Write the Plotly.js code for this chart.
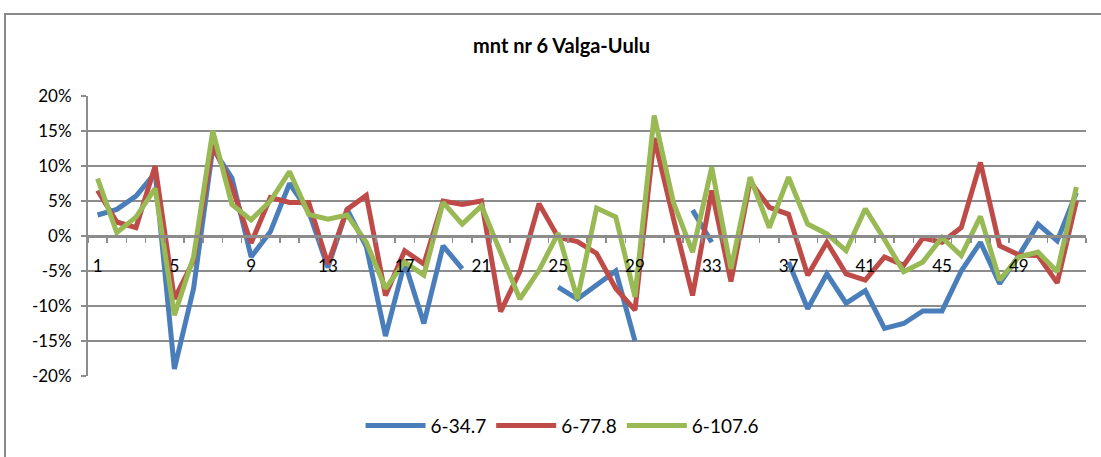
<!DOCTYPE html>
<html>
<head>
<meta charset="utf-8">
<script src="https://cdn.plot.ly/plotly-3.0.1.min.js"></script>
<style>
  html, body { margin: 0; padding: 0; background: #fff; }
  #wrap { position: relative; width: 1101px; height: 457px; overflow: hidden; }
  #chart { width: 1101px; height: 457px; }
  #frame { position: absolute; left: 4px; top: 13px; width: 1200px; height: 600px;
           border: 2px solid #898989; pointer-events: none; box-sizing: border-box; }
</style>
</head>
<body>
<div id="wrap">
  <div id="chart"></div>
  <div id="frame"></div>
</div>
<script>
// Categories (measurement points)
const categories = [1,2,3,4,5,6,7,8,9,10,11,12,13,14,15,16,17,18,19,20,21,22,23,24,25,26,
                    27,28,29,30,31,32,33,34,35,36,37,38,39,40,41,42,43,44,45,46,47,48,49,50,51,52];

// Series values, in percent
const s_34_7 = [3, 3.8, 5.7, 9, -19, -7.5, 12.5, 8.3, -3, 0.6, 7.5, 3.5, -4.5, 3.8, -1.5, -14.3,
                -3.8, -12.5, -1.4, -4.7, null, null, null, null, -7.3, -9, -7, -5, -15, null, null,
                3.7, -0.9, null, null, null, -3.7, -10.4, -5.4, -9.6, -7.8, -13.2, -12.5, -10.7,
                -10.7, -5, -0.9, -6.8, -2.8, 1.7, -0.7, 6.2];
const s_77_8 = [6.5, 2, 1.2, 10, -9, -3.5, 13, 7, -1, 5.5, 4.8, 4.8, -4, 3.8, 5.8, -8.5,
                -2.1, -4, 5, 4.5, 5, -10.8, -5.1, 4.6, -0.2, -0.8, -2.5, -7.5, -10.6, 14, 2.5,
                -8.5, 6.5, -6.5, 7.8, 4.1, 3.1, -5.6, -0.9, -5.4, -6.3, -3, -4.2, -0.3,
                -0.9, 1.2, 10.5, -1.4, -2.7, -2.8, -6.7, 5];
const s_107_6 = [8.2, 0.5, 2.7, 6.8, -11.3, -3, 15, 4.5, 2.3, 5, 9.2, 3.1, 2.4, 3, -0.9, -7.5,
                 -3.7, -5.6, 4.8, 1.7, 4.3, -2.3, -9, -4.9, 0.4, -9, 4, 2.7, -8.7, 17.2, 4.8,
                 -2.3, 9.8, -4.7, 8.4, 1.2, 8.4, 1.7, 0.3, -2.1, 3.9, -0.5, -5.1, -3.7,
                 -0.2, -2.8, 2.8, -6.3, -3, -2.3, -5.1, 7];

const seriesNames = ['6-34.7', '6-77.8', '6-107.6'];
const seriesColors = ['#4A7EBB', '#BE4B48', '#98B954'];

// Tick labels
const xTickVals = [1, 5, 9, 13, 17, 21, 25, 29, 33, 37, 41, 45, 49];
const xTickLabels = ['1', '5', '9', '13', '17', '21', '25', '29', '33', '37', '41', '45', '49'];
const yTickVals = [-20, -15, -10, -5, 0, 5, 10, 15, 20];
const yTickLabels = ['-20%', '-15%', '-10%', '-5%', '0%', '5%', '10%', '15%', '20%'];

const FONT = 'Lato, "Liberation Sans", sans-serif';
const GRID = '#8C8C8C';

const allSeries = [s_34_7, s_77_8, s_107_6];
const traces = allSeries.map((vals, i) => ({
  type: 'scatter',
  mode: 'lines',
  x: categories,
  y: vals,
  name: seriesNames[i],
  line: { color: seriesColors[i], width: 5 },
  connectgaps: false,
  hoverinfo: 'x+y+name'
}));

const layout = {
  width: 1101,
  height: 457,
  margin: { l: 88, r: 15, t: 96, b: 79 },
  paper_bgcolor: '#ffffff',
  plot_bgcolor: '#ffffff',
  font: { family: FONT, color: '#000000', size: 17 },
  title: {
    text: '<b>mnt nr 6 Valga-Uulu</b>',
    font: { family: FONT, size: 20, color: '#000000' },
    x: 0.51, xref: 'container', xanchor: 'center',
    y: 0.899, yref: 'container', yanchor: 'middle'
  },
  xaxis: {
    range: [0.5, 52.5],
    anchor: 'free',
    position: 0.5,
    tickmode: 'array',
    tickvals: xTickVals,
    ticktext: xTickLabels,
    ticks: '',
    ticklabelstandoff: 14,
    showline: true,
    linecolor: GRID,
    linewidth: 2.5,
    showgrid: false,
    zeroline: false,
    tickfont: { family: FONT, size: 17, color: '#000' },
    minor: { ticks: 'outside', ticklen: 5, tickwidth: 1.5, tickcolor: GRID,
             tick0: 0.5, dtick: 1, showgrid: false },
    fixedrange: true
  },
  yaxis: {
    range: [-20, 20],
    tickmode: 'array',
    tickvals: yTickVals,
    ticktext: yTickLabels,
    ticks: 'outside',
    ticklen: 5,
    tickwidth: 1.5,
    tickcolor: GRID,
    ticklabelstandoff: 6,
    showline: true,
    linecolor: GRID,
    linewidth: 2,
    showgrid: true,
    gridcolor: GRID,
    gridwidth: 1.6,
    zeroline: false,
    tickfont: { family: FONT, size: 17, color: '#000' },
    fixedrange: true
  },
  showlegend: true,
  legend: {
    orientation: 'h',
    x: 0.475, xanchor: 'center',
    y: -0.177, yanchor: 'middle',
    font: { family: FONT, size: 19, color: '#000' },
    itemwidth: 60,
    bgcolor: 'rgba(0,0,0,0)'
  }
};

Plotly.newPlot('chart', traces, layout, { displayModeBar: false, staticPlot: true });
</script>
</body>
</html>
